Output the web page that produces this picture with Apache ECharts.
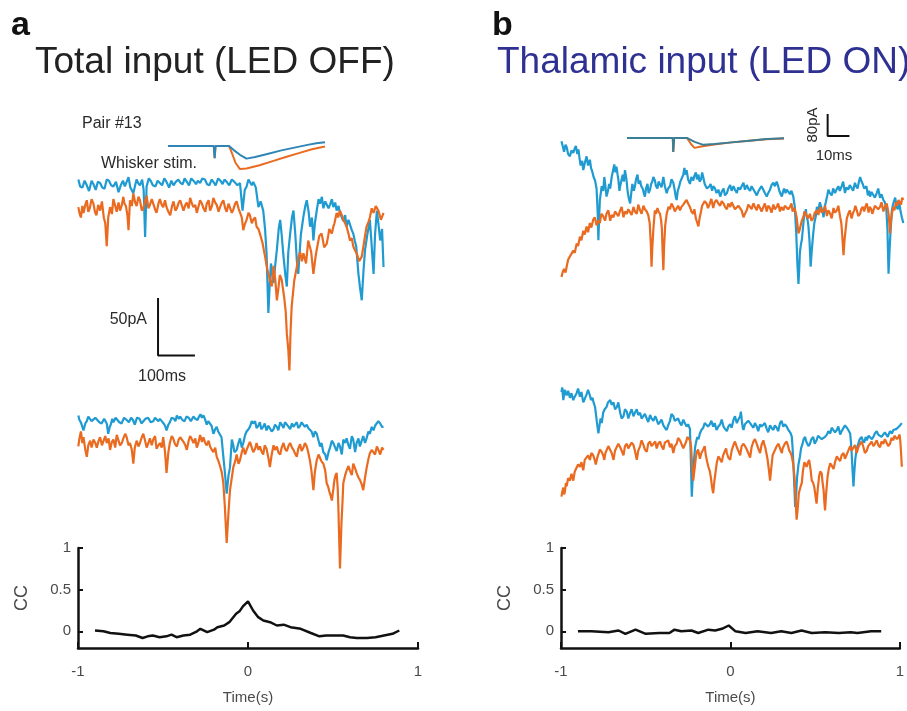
<!DOCTYPE html>
<html>
<head>
<meta charset="utf-8">
<script src="https://cdn.jsdelivr.net/npm/echarts@6/dist/echarts.min.js"></script>
<style>
  html, body { margin: 0; padding: 0; background: #fff; }
  #chart { width: 907px; height: 711px; }
</style>
</head>
<body>
<div id="chart"></div>
<script>
// traces: [time (ms), current (pA)]
const aTopBlue = [[9,3],[14,-3],[20,-4],[26,2],[32,-2],[38,-7],[45,2],[50,-1],[56,-6],[62,1],[68,0],[74,-4],[80,-5],[86,3],[92,2],[98,-2],[104,-3],[111,1],[118,-8],[124,-2],[130,2],[135,-3],[140,1],[145,5],[150,-4],[158,-9],[163,-2],[167,3],[171,0],[176,-2],[182,3],[186,-6],[190,-47],[194,-3],[200,4],[205,2],[211,-2],[218,-3],[224,2],[230,0],[236,-2],[242,4],[248,1],[255,-4],[261,2],[267,-2],[273,1],[280,3],[286,0],[292,-1],[297,4],[303,1],[309,-2],[315,4],[321,2],[328,-1],[333,2],[339,0],[345,4],[352,3],[358,-1],[364,-2],[370,3],[375,1],[381,-2],[388,4],[394,2],[400,-1],[405,3],[411,1],[418,-2],[425,3],[432,1],[440,-2],[447,0],[454,-24],[460,-6],[465,-3],[470,3],[474,2],[479,-2],[483,1],[490,-4],[497,-21],[503,-16],[510,-24],[515,-40],[519,-61],[524,-113],[528,-85],[531,-70],[538,-87],[543,-70],[547,-58],[552,-40],[556,-32],[560,-45],[565,-64],[570,-80],[574,-90],[578,-60],[583,-44],[588,-30],[592,-24],[597,-45],[601,-67],[605,-79],[612,-45],[619,-29],[624,-20],[628,-15],[633,-25],[637,-38],[642,-30],[646,-50],[650,-35],[655,-24],[660,-14],[664,-18],[669,-12],[673,-22],[678,-16],[682,-15],[687,-22],[691,-19],[696,-14],[700,-21],[705,-17],[709,-24],[714,-20],[718,-26],[723,-30],[727,-33],[732,-28],[736,-38],[741,-32],[745,-36],[750,-41],[754,-44],[758,-50],[762,-55],[768,-79],[772,-90],[777,-102],[782,-75],[786,-58],[792,-45],[796,-38],[799,-32],[804,-55],[809,-79],[813,-45],[818,-24],[822,-35],[827,-50],[832,-40],[836,-73]];
const aTopOrange = [[9,-21],[12,-26],[16,-30],[20,-20],[23,-26],[28,-19],[32,-15],[36,-25],[40,-22],[45,-14],[50,-18],[54,-25],[58,-28],[63,-19],[68,-24],[73,-16],[78,-30],[82,-35],[86,-55],[90,-30],[95,-21],[100,-27],[104,-14],[109,-20],[113,-25],[118,-17],[122,-24],[127,-19],[131,-12],[134,-18],[138,-20],[142,-28],[145,-41],[149,-15],[154,-20],[158,-9],[163,-17],[167,-20],[172,-12],[176,-15],[181,-24],[185,-22],[190,-16],[194,-11],[199,-22],[203,-19],[208,-14],[212,-18],[217,-23],[221,-26],[226,-18],[230,-14],[235,-19],[239,-21],[244,-15],[248,-21],[253,-25],[258,-28],[263,-20],[267,-16],[272,-24],[276,-22],[281,-17],[285,-15],[290,-20],[294,-24],[299,-19],[303,-17],[308,-22],[312,-13],[317,-18],[321,-21],[326,-19],[330,-26],[335,-20],[339,-15],[344,-18],[348,-22],[353,-25],[357,-18],[362,-15],[366,-24],[371,-20],[375,-13],[380,-17],[384,-19],[389,-25],[393,-21],[398,-17],[402,-15],[407,-22],[411,-25],[416,-18],[420,-19],[425,-26],[429,-23],[434,-18],[438,-16],[443,-22],[447,-21],[452,-30],[456,-41],[460,-36],[465,-32],[470,-26],[474,-28],[479,-35],[483,-32],[488,-30],[492,-38],[497,-40],[501,-44],[508,-52],[515,-64],[521,-75],[528,-84],[533,-90],[538,-72],[543,-85],[547,-102],[551,-92],[555,-80],[560,-84],[567,-100],[571,-112],[574,-131],[578,-145],[581,-163],[584,-130],[587,-108],[594,-85],[601,-73],[605,-65],[610,-60],[615,-68],[619,-61],[626,-70],[632,-50],[636,-55],[640,-60],[646,-79],[651,-66],[655,-58],[662,-46],[668,-44],[672,-50],[675,-56],[682,-53],[686,-46],[689,-40],[696,-44],[700,-38],[703,-35],[709,-26],[713,-30],[718,-24],[723,-28],[727,-32],[732,-35],[736,-38],[741,-44],[745,-50],[750,-48],[754,-55],[758,-58],[763,-61],[770,-68],[777,-64],[781,-56],[784,-50],[790,-38],[795,-34],[799,-30],[804,-22],[809,-26],[815,-20],[822,-24],[829,-32],[836,-26]];
const aMidBlue = [[9,4],[12,0],[16,-2],[20,-6],[23,-9],[28,-3],[32,-1],[36,3],[40,2],[45,-1],[50,-2],[55,2],[60,1],[66,-2],[72,-3],[79,1],[86,-3],[90,-12],[94,-6],[97,-4],[101,1],[104,-2],[110,2],[115,1],[120,-2],[126,-3],[133,2],[140,0],[146,-2],[152,2],[157,0],[162,-4],[168,2],[175,1],[180,-3],[185,-2],[191,1],[198,2],[205,-2],[212,-1],[217,2],[222,3],[226,-1],[230,1],[235,-1],[240,-3],[244,-5],[248,-9],[253,-4],[257,-2],[262,2],[268,1],[272,-1],[276,4],[281,1],[285,3],[291,0],[297,-1],[302,3],[308,2],[314,-1],[321,3],[326,1],[332,0],[336,3],[340,5],[344,2],[348,4],[352,1],[357,-4],[361,-1],[366,0],[370,-5],[375,-12],[380,-8],[384,-6],[388,-10],[393,-9],[397,-15],[402,-32],[406,-45],[411,-64],[416,-48],[420,-41],[425,-17],[429,-22],[432,-28],[438,-26],[443,-20],[447,-16],[452,-24],[456,-20],[461,-13],[465,-10],[470,-8],[474,-6],[479,-1],[483,-3],[488,-1],[492,-7],[497,-5],[501,-2],[505,-8],[510,-6],[514,-3],[519,-9],[524,-5],[528,-4],[533,-10],[538,-8],[542,-4],[547,-6],[551,-9],[556,-2],[560,-4],[565,-7],[569,-2],[574,-3],[579,-6],[583,-8],[588,-3],[592,-6],[596,-4],[601,-2],[605,-7],[610,-5],[614,-2],[619,-1],[623,-6],[628,-4],[632,-7],[637,-8],[641,-10],[646,-15],[650,-10],[655,-12],[660,-18],[664,-23],[668,-20],[673,-28],[678,-30],[682,-35],[687,-28],[691,-24],[696,-18],[700,-20],[705,-24],[709,-27],[714,-20],[718,-23],[723,-30],[727,-17],[732,-20],[736,-16],[741,-22],[745,-25],[750,-14],[754,-17],[759,-28],[763,-20],[768,-16],[772,-23],[777,-18],[781,-14],[786,-20],[790,-16],[795,-10],[799,-12],[804,-6],[809,-9],[813,-5],[818,-4],[822,-1],[827,-3],[832,-6],[836,-6]];
const aMidOrange = [[9,-23],[12,-16],[16,-10],[20,-20],[23,-15],[28,-26],[32,-32],[36,-22],[41,-18],[45,-24],[50,-17],[55,-20],[59,-24],[64,-18],[68,-15],[73,-22],[77,-21],[82,-14],[86,-20],[91,-16],[95,-26],[100,-19],[104,-17],[109,-24],[113,-13],[118,-18],[122,-22],[127,-20],[131,-16],[136,-12],[140,-15],[145,-22],[149,-20],[154,-26],[158,-38],[162,-24],[167,-18],[172,-23],[176,-20],[181,-15],[185,-12],[190,-18],[194,-24],[199,-20],[203,-16],[208,-22],[212,-17],[217,-14],[221,-25],[226,-22],[230,-20],[235,-24],[239,-15],[244,-28],[248,-46],[253,-28],[257,-20],[262,-14],[266,-16],[271,-21],[276,-23],[281,-17],[285,-15],[290,-14],[294,-19],[299,-22],[303,-26],[308,-18],[312,-14],[317,-17],[321,-20],[326,-16],[330,-24],[335,-19],[339,-13],[344,-19],[348,-15],[353,-20],[357,-22],[362,-18],[366,-23],[371,-26],[375,-28],[380,-24],[384,-32],[389,-36],[393,-40],[398,-46],[402,-55],[406,-75],[411,-107],[416,-80],[420,-61],[425,-50],[429,-41],[434,-36],[438,-30],[443,-38],[447,-35],[452,-28],[456,-24],[461,-30],[465,-26],[470,-22],[474,-19],[479,-24],[483,-28],[488,-25],[492,-20],[497,-26],[501,-23],[505,-27],[510,-30],[514,-22],[519,-25],[524,-33],[528,-41],[533,-30],[538,-22],[542,-26],[547,-23],[551,-28],[556,-30],[560,-24],[565,-20],[569,-25],[574,-27],[579,-22],[583,-20],[588,-24],[592,-26],[596,-29],[601,-32],[605,-25],[610,-21],[614,-27],[619,-24],[623,-20],[628,-23],[632,-28],[637,-36],[641,-45],[646,-61],[650,-45],[655,-35],[660,-30],[664,-33],[668,-36],[673,-38],[678,-44],[682,-55],[686,-58],[689,-62],[693,-66],[696,-70],[700,-60],[703,-52],[706,-48],[709,-46],[712,-60],[714,-80],[716,-105],[718,-129],[720,-110],[722,-90],[725,-70],[727,-55],[732,-48],[736,-44],[741,-40],[745,-44],[750,-48],[754,-38],[759,-42],[763,-46],[768,-50],[772,-52],[777,-56],[781,-61],[786,-50],[790,-42],[795,-34],[799,-29],[804,-26],[809,-25],[813,-30],[818,-23],[822,-26],[827,-30],[832,-24],[836,-26]];
const bTopBlue = [[4,51],[8,46],[11,42],[15,48],[18,46],[22,40],[27,38],[31,43],[36,41],[40,45],[43,47],[47,40],[50,44],[53,36],[56,30],[60,34],[63,26],[67,32],[72,38],[76,30],[81,35],[84,28],[88,24],[91,20],[95,17],[99,10],[102,-10],[104,-35],[106,-15],[108,0],[113,12],[117,8],[120,20],[123,12],[126,3],[130,8],[133,14],[136,10],[140,20],[144,26],[147,31],[150,24],[153,29],[156,22],[158,18],[161,8],[163,12],[167,18],[170,22],[173,16],[176,26],[180,18],[183,8],[186,2],[190,-3],[193,6],[196,14],[200,8],[203,12],[206,18],[210,22],[213,14],[217,17],[220,12],[224,10],[227,6],[230,3],[233,10],[237,14],[240,6],[244,9],[247,14],[250,16],[253,20],[257,17],[260,12],[264,10],[267,16],[271,15],[275,11],[280,20],[284,12],[289,6],[293,10],[298,12],[302,18],[307,15],[311,8],[314,2],[316,0],[319,8],[323,12],[326,16],[330,17],[334,22],[337,28],[340,22],[343,26],[347,18],[352,14],[356,20],[361,17],[364,21],[368,24],[371,18],[375,22],[378,16],[382,18],[385,24],[388,20],[392,14],[395,15],[398,10],[402,9],[405,12],[408,14],[412,8],[415,12],[420,10],[424,6],[429,9],[434,3],[438,7],[443,10],[447,4],[452,6],[456,10],[461,13],[465,8],[470,12],[474,9],[479,6],[483,11],[488,9],[492,12],[497,15],[501,9],[506,13],[510,10],[515,8],[519,12],[524,12],[528,7],[533,4],[538,8],[542,7],[546,12],[551,11],[555,6],[560,3],[564,6],[569,9],[573,13],[578,15],[582,12],[587,16],[591,12],[594,8],[598,5],[601,3],[604,7],[607,10],[611,6],[614,9],[619,7],[623,5],[627,8],[632,3],[636,-6],[640,-29],[643,-55],[646,-73],[648,-60],[650,-45],[653,-38],[655,-35],[658,-25],[660,-18],[662,-10],[664,-12],[666,-8],[668,-14],[671,-18],[673,-23],[676,-36],[679,-58],[682,-44],[686,-29],[689,-20],[693,-14],[696,-6],[700,-9],[704,-2],[707,-3],[711,-10],[714,-15],[717,-6],[720,-2],[724,4],[727,9],[731,6],[736,4],[740,10],[745,6],[749,9],[754,12],[758,8],[763,12],[767,16],[772,6],[776,11],[781,9],[785,13],[790,12],[794,8],[799,15],[802,12],[806,10],[810,16],[813,20],[817,16],[820,14],[824,10],[827,9],[830,12],[834,4],[837,8],[840,3],[844,7],[849,8],[853,2],[858,6],[862,10],[867,2],[871,5],[876,0],[880,-2],[884,-8],[887,-25],[890,-64],[893,-42],[895,-30],[899,-9],[902,-4],[905,-3],[908,2],[912,-6],[915,-8],[919,-2],[922,-9],[926,-15],[930,-20]];
const bTopOrange = [[4,-67],[8,-62],[11,-60],[15,-63],[18,-58],[22,-52],[27,-49],[31,-50],[36,-44],[40,-46],[45,-38],[49,-40],[54,-32],[58,-35],[63,-27],[67,-30],[72,-23],[76,-28],[81,-20],[85,-24],[90,-17],[94,-15],[99,-22],[104,-18],[108,-20],[112,-12],[117,-14],[122,-18],[126,-12],[131,-9],[136,-18],[140,-13],[145,-15],[149,-10],[154,-9],[158,-14],[163,-9],[167,-6],[172,-15],[176,-10],[181,-12],[185,-8],[190,-7],[194,-13],[199,-6],[203,-10],[208,-12],[212,-4],[217,-9],[221,-12],[226,-5],[230,-8],[235,-10],[239,-13],[243,-20],[246,-38],[248,-58],[250,-42],[253,-25],[257,-9],[260,-12],[264,-7],[267,-10],[271,-12],[274,-18],[276,-25],[278,-45],[280,-61],[282,-40],[285,-22],[289,-12],[294,-6],[298,-8],[302,-3],[307,-6],[311,-10],[316,-11],[320,-5],[325,-9],[329,-6],[334,-4],[338,-2],[343,0],[347,-3],[352,-6],[356,-10],[361,-12],[364,-8],[368,-16],[372,-20],[375,-23],[378,-16],[382,-10],[385,-5],[388,-6],[392,-1],[397,-3],[401,-7],[406,-3],[410,1],[415,-7],[419,-2],[424,0],[429,-3],[434,-5],[438,-1],[443,-3],[447,-6],[452,-8],[456,-3],[461,-6],[465,-2],[470,-3],[474,-8],[479,-9],[483,-5],[488,-4],[492,-9],[497,-15],[501,-12],[506,-9],[510,-4],[515,-6],[519,-8],[524,-3],[528,-6],[533,-9],[537,-4],[542,-7],[546,-10],[551,-6],[555,-3],[560,-10],[564,-5],[569,-7],[573,-11],[578,-4],[582,-8],[587,-6],[591,-3],[596,-10],[600,-6],[605,-9],[609,-5],[614,-4],[618,-8],[623,-6],[627,-3],[630,-10],[634,-7],[637,-9],[641,-15],[646,-29],[649,-26],[652,-22],[655,-18],[659,-15],[663,-10],[668,-10],[672,-16],[677,-12],[681,-18],[686,-16],[690,-11],[696,-9],[700,-13],[705,-6],[709,-11],[714,-9],[718,-5],[723,-14],[727,-9],[732,-12],[736,-16],[741,-7],[745,-11],[750,-9],[754,-5],[759,-15],[762,-20],[764,-28],[766,-38],[768,-48],[771,-34],[774,-25],[777,-16],[781,-12],[785,-9],[790,-16],[793,-12],[797,-9],[800,-5],[804,-9],[808,-14],[813,-12],[816,-8],[820,-6],[824,-10],[827,-6],[831,-3],[836,-11],[839,-6],[843,-8],[846,-12],[849,-9],[853,-5],[858,-4],[862,-8],[867,-6],[871,-2],[876,-10],[880,-6],[885,-3],[888,-8],[890,-12],[892,-20],[894,-29],[896,-20],[899,-12],[903,-6],[906,-9],[910,-2],[913,-5],[917,0],[920,-2],[924,-4],[927,2],[930,0]];
const bMidBlue = [[4,33],[6,37],[9,26],[13,35],[16,32],[18,30],[22,34],[27,28],[31,32],[36,26],[40,29],[45,32],[49,36],[54,29],[58,33],[63,24],[67,27],[72,31],[76,35],[81,30],[84,26],[88,28],[91,24],[95,20],[98,12],[101,4],[104,-3],[107,4],[110,10],[113,6],[117,15],[121,18],[126,20],[130,24],[136,26],[140,22],[145,24],[149,18],[154,20],[158,24],[163,15],[167,10],[172,12],[176,18],[181,16],[185,10],[190,15],[194,18],[199,12],[203,15],[208,18],[212,13],[217,15],[221,10],[226,11],[230,14],[235,10],[239,7],[244,13],[248,10],[253,8],[258,12],[262,9],[266,5],[271,7],[275,9],[280,4],[284,2],[289,0],[293,4],[298,8],[302,14],[307,12],[311,8],[316,7],[320,10],[325,6],[329,4],[334,9],[338,6],[343,3],[347,5],[352,1],[354,-20],[357,-58],[359,-45],[362,-30],[366,-15],[369,-10],[372,-6],[375,-8],[379,-3],[383,0],[388,2],[392,6],[397,6],[401,3],[406,5],[410,8],[415,3],[419,6],[424,0],[429,3],[434,5],[438,9],[443,3],[447,1],[452,-1],[456,3],[461,5],[465,2],[470,9],[474,12],[479,6],[483,9],[488,12],[490,16],[493,7],[495,2],[497,0],[501,5],[506,4],[510,8],[515,6],[519,4],[524,2],[528,6],[533,3],[537,-1],[542,5],[546,3],[551,2],[555,6],[560,1],[564,-2],[569,4],[573,2],[578,0],[582,4],[587,2],[591,-1],[596,6],[600,8],[605,3],[609,5],[614,3],[617,1],[621,-1],[625,-3],[628,-6],[630,-15],[632,-28],[635,-50],[637,-67],[640,-55],[642,-42],[646,-30],[650,-23],[653,-16],[657,-12],[660,-8],[664,-6],[667,-10],[670,-9],[673,-14],[677,-12],[681,-8],[686,-6],[690,-12],[695,-9],[699,-5],[704,-4],[709,-8],[714,-9],[718,-6],[723,-4],[727,-1],[732,-3],[736,2],[741,1],[745,-2],[750,0],[754,3],[759,-4],[763,-1],[768,0],[772,4],[777,2],[781,0],[786,-3],[788,-10],[790,-20],[793,-38],[795,-49],[797,-38],[800,-25],[804,-16],[808,-12],[812,-8],[817,-6],[820,-9],[824,-11],[828,-6],[831,-9],[836,-5],[840,-4],[845,-8],[849,-6],[853,-3],[858,-1],[862,-4],[867,-3],[871,-6],[876,-6],[880,-2],[885,-2],[888,-6],[890,-4],[894,-1],[899,-3],[903,0],[908,-1],[912,1],[917,2],[921,4],[926,6]];
const bMidOrange = [[4,-58],[6,-54],[9,-50],[11,-56],[13,-54],[16,-46],[18,-49],[22,-42],[27,-44],[31,-38],[36,-44],[40,-36],[45,-37],[49,-30],[54,-32],[58,-28],[63,-35],[67,-26],[72,-27],[76,-22],[81,-26],[85,-20],[90,-22],[94,-26],[97,-30],[101,-24],[104,-23],[108,-17],[113,-19],[117,-22],[120,-26],[123,-20],[126,-20],[131,-14],[136,-15],[140,-20],[145,-26],[149,-18],[154,-19],[158,-12],[163,-15],[167,-18],[172,-22],[176,-14],[181,-12],[185,-16],[190,-17],[194,-11],[199,-13],[203,-18],[208,-26],[212,-18],[217,-14],[221,-9],[226,-13],[230,-17],[235,-19],[239,-12],[244,-10],[248,-14],[253,-15],[258,-10],[262,-16],[266,-12],[271,-10],[275,-14],[280,-17],[284,-11],[289,-12],[293,-9],[298,-15],[302,-12],[307,-20],[311,-14],[316,-12],[320,-7],[325,-9],[329,-12],[334,-16],[339,-15],[342,-10],[345,-6],[348,-7],[352,-9],[355,-14],[357,-25],[359,-36],[361,-44],[363,-38],[366,-30],[368,-24],[370,-20],[374,-17],[379,-25],[383,-20],[388,-17],[392,-14],[395,-22],[399,-28],[402,-32],[406,-36],[409,-42],[412,-50],[415,-55],[418,-45],[422,-35],[425,-28],[429,-23],[433,-25],[438,-28],[442,-22],[447,-18],[450,-16],[452,-20],[456,-24],[461,-26],[465,-18],[470,-13],[474,-10],[479,-15],[483,-18],[488,-22],[492,-14],[497,-12],[501,-14],[506,-17],[510,-20],[515,-24],[519,-15],[524,-10],[528,-8],[533,-12],[537,-16],[542,-20],[546,-13],[551,-9],[553,-12],[556,-15],[559,-20],[562,-25],[566,-35],[569,-44],[572,-34],[576,-22],[580,-19],[583,-17],[587,-14],[592,-12],[596,-16],[601,-20],[603,-16],[605,-15],[609,-12],[614,-10],[618,-14],[621,-18],[625,-20],[628,-23],[632,-30],[635,-40],[638,-58],[641,-78],[644,-68],[647,-55],[651,-50],[655,-46],[658,-36],[662,-28],[665,-30],[668,-32],[672,-28],[675,-26],[679,-35],[682,-44],[686,-46],[689,-50],[692,-57],[695,-64],[698,-52],[702,-40],[705,-36],[709,-38],[711,-45],[714,-52],[716,-62],[718,-70],[721,-55],[725,-40],[728,-34],[732,-29],[736,-31],[741,-34],[745,-28],[750,-23],[754,-25],[759,-27],[763,-22],[768,-20],[772,-25],[777,-24],[781,-18],[786,-14],[790,-18],[795,-17],[799,-13],[804,-20],[808,-15],[813,-12],[817,-10],[822,-15],[826,-20],[831,-18],[835,-14],[840,-12],[844,-10],[849,-14],[853,-12],[858,-9],[862,-13],[867,-15],[871,-10],[876,-12],[880,-8],[885,-8],[889,-14],[894,-12],[898,-7],[903,-9],[906,-5],[910,-4],[913,-8],[917,-6],[920,-4],[922,-10],[924,-20],[926,-32]];

// average evoked responses (inset), [ms, pA]
const aInsetBlue = [[0,0],[21,0],[21.4,-44],[21.8,0],[28,0],[30,-14],[33,-32],[36,-46],[40,-40],[46,-28],[52,-16],[58,-6],[64,4],[68,10],[72,14]];
const aInsetOrange = [[0,0],[21,0],[21.4,-44],[21.8,0],[28,0],[29.5,-30],[31,-62],[33,-84],[36,-82],[42,-70],[48,-55],[54,-40],[60,-26],[66,-12],[72,-2]];
const bInsetBlue = [[0,0],[21,0],[21.2,-51],[21.6,0],[27.5,0],[31,-14],[35,-25],[40,-22],[48,-16],[56,-10],[64,-4],[72,-1]];
const bInsetOrange = [[0,0],[21,0],[21.2,-51],[21.6,0],[27.5,0],[29.5,-24],[31,-36],[34,-31],[40,-24],[48,-16],[56,-10],[64,-5],[72,-2]];

// cross-correlation
const ccTimeA = [-0.90,-0.85,-0.81,-0.76,-0.71,-0.66,-0.62,-0.59,-0.56,-0.52,-0.48,-0.45,-0.42,-0.38,-0.34,-0.30,-0.28,-0.24,-0.20,-0.18,-0.14,-0.11,-0.07,-0.05,-0.03,0,0.03,0.06,0.09,0.13,0.17,0.21,0.25,0.31,0.37,0.42,0.46,0.50,0.56,0.60,0.64,0.70,0.75,0.80,0.85,0.89];
const ccValA = [0.01,0,-0.02,-0.03,-0.04,-0.05,-0.08,-0.06,-0.05,-0.07,-0.06,-0.04,-0.07,-0.05,-0.04,0,0.03,-0.01,0.02,0.05,0.07,0.11,0.21,0.24,0.30,0.36,0.25,0.17,0.13,0.11,0.07,0.08,0.05,0.03,-0.02,-0.06,-0.05,-0.05,-0.05,-0.07,-0.08,-0.08,-0.07,-0.05,-0.03,0.01];
const ccTimeB = [-0.90,-0.82,-0.72,-0.66,-0.62,-0.56,-0.50,-0.42,-0.36,-0.33,-0.29,-0.23,-0.19,-0.13,-0.09,-0.05,-0.01,0.03,0.09,0.16,0.24,0.30,0.36,0.42,0.48,0.56,0.64,0.71,0.75,0.83,0.89];
const ccValB = [0,0,-0.01,0.01,-0.03,0.02,-0.03,-0.02,-0.02,0.02,0,0.01,-0.02,0.02,0.01,0.03,0.07,0,-0.02,0,-0.02,0,-0.02,0.01,-0.02,-0.01,-0.02,-0.01,-0.02,0,0];
const ccTicks = [0, 0.5, 1];

// scale bars
const barA = [[225, -100], [225, -150], [325, -150]]; // 50 pA, 100 ms
const barB = [[92, 87], [92, 7], [102, 7]];          // 80 pA, 10 ms

const BLUE = '#1f9bd1';
const ORANGE = '#ea6a20';
const FONT = '"Liberation Sans", Arial, sans-serif';

const chart = echarts.init(document.getElementById('chart'), null, { renderer: 'canvas' });

// grid boxes
const grids = [
  { left: 75, top: 125.5, width: 310, height: 264.5 },  // 0 a traces 1
  { left: 75, top: 362.5, width: 310, height: 264.5 },  // 1 a traces 2
  { left: 560, top: 119.5, width: 347, height: 207 },   // 2 b traces 1
  { left: 560, top: 372.5, width: 347, height: 184 },   // 3 b traces 2
  { left: 168, top: 135, width: 157, height: 46.7 },    // 4 a inset
  { left: 627, top: 110.5, width: 229, height: 63.2 },  // 5 b inset
  { left: 78, top: 548, width: 340, height: 100 },      // 6 a CC
  { left: 561, top: 548, width: 341, height: 100 }      // 7 b CC
];
const ranges = [
  [0, 840, -180, 50], [0, 840, -180, 50], [0, 940, -110, 70], [0, 940, -110, 50],
  [0, 72, -130, 40], [0, 105, -130, 100]
];

const xAxes = [], yAxes = [];
ranges.forEach(r => {
  xAxes.push({ type: 'value', show: false, min: r[0], max: r[1], gridIndex: xAxes.length });
  yAxes.push({ type: 'value', show: false, min: r[2], max: r[3], gridIndex: yAxes.length });
});

const axisText = { color: '#4a4a4a', fontFamily: FONT, fontSize: 15 };
[6, 7].forEach(g => {
  xAxes.push({
    type: 'value', gridIndex: g, min: -1, max: 1, interval: 1,
    name: 'Time(s)', nameLocation: 'middle', nameGap: 42,
    nameTextStyle: { color: '#4a4a4a', fontFamily: FONT, fontSize: 15 },
    axisLine: { onZero: false, lineStyle: { color: '#111', width: 2.5 } },
    axisTick: { inside: true, length: 6, lineStyle: { color: '#111', width: 2 } },
    axisLabel: Object.assign({ margin: 16 }, axisText),
    splitLine: { show: false }
  });
  yAxes.push({
    type: 'value', gridIndex: g, min: -0.2, max: 1,
    name: 'CC', nameLocation: 'middle', nameRotate: 90, nameGap: 47,
    nameTextStyle: { color: '#4a4a4a', fontFamily: FONT, fontSize: 18 },
    axisLine: { show: true, onZero: false, lineStyle: { color: '#111', width: 2.5 } },
    axisTick: { show: true, inside: true, length: 5, customValues: ccTicks, lineStyle: { color: '#111', width: 2 } },
    axisLabel: Object.assign({ margin: 7, customValues: ccTicks }, axisText),
    splitLine: { show: false }
  });
});

function trace(data, idx, color, width) {
  return {
    type: 'line', data: data, xAxisIndex: idx, yAxisIndex: idx,
    symbol: 'none', lineStyle: { color: color, width: width || 2.2 },
    itemStyle: { color: color }, animation: false, silent: true
  };
}
function zip(xs, ys) { return xs.map((x, i) => [x, ys[i]]); }

const series = [
  trace(aTopBlue, 0, BLUE), trace(aTopOrange, 0, ORANGE),
  trace(aMidBlue, 1, BLUE), trace(aMidOrange, 1, ORANGE),
  trace(bTopBlue, 2, BLUE), trace(bTopOrange, 2, ORANGE),
  trace(bMidBlue, 3, BLUE), trace(bMidOrange, 3, ORANGE),
  trace(aInsetOrange, 4, ORANGE, 2), trace(aInsetBlue, 4, '#2f86b6', 2),
  trace(bInsetOrange, 5, ORANGE, 2), trace(bInsetBlue, 5, '#3a7f96', 2),
  trace(barA, 0, '#111', 2), trace(barB, 5, '#111', 2),
  trace(zip(ccTimeA, ccValA), 6, '#111', 2.5),
  trace(zip(ccTimeB, ccValB), 7, '#111', 2.5)
];

function label(text, x, y, size, opts) {
  return Object.assign({
    type: 'text', x: x, y: y, silent: true,
    style: {
      text: text, fill: (opts && opts.fill) || '#2a2a2a',
      font: ((opts && opts.weight) || 'normal') + ' ' + size + 'px ' + FONT,
      textAlign: (opts && opts.align) || 'left', textVerticalAlign: 'middle'
    }
  }, opts && opts.rotation ? { rotation: opts.rotation } : {});
}

chart.setOption({
  backgroundColor: '#fff',
  animation: false,
  grid: grids,
  xAxis: xAxes,
  yAxis: yAxes,
  series: series,
  graphic: [
    label('a', 11, 26, 34, { weight: 'bold', fill: '#111' }),
    label('Total input (LED OFF)', 35, 63, 37, { fill: '#222' }),
    label('b', 492, 26, 34, { weight: 'bold', fill: '#111' }),
    label('Thalamic input (LED ON)', 497, 63, 37, { fill: '#2e3192' }),
    label('Pair #13', 82, 124, 16),
    label('Whisker stim.', 101, 164, 16),
    label('50pA', 147, 320, 16, { align: 'right' }),
    label('100ms', 162, 377, 16, { align: 'center' }),
    label('80pA', 813, 125, 15, { align: 'center', rotation: Math.PI / 2 }),
    label('10ms', 834, 156, 15, { align: 'center' })
  ]
});
</script>
</body>
</html>
